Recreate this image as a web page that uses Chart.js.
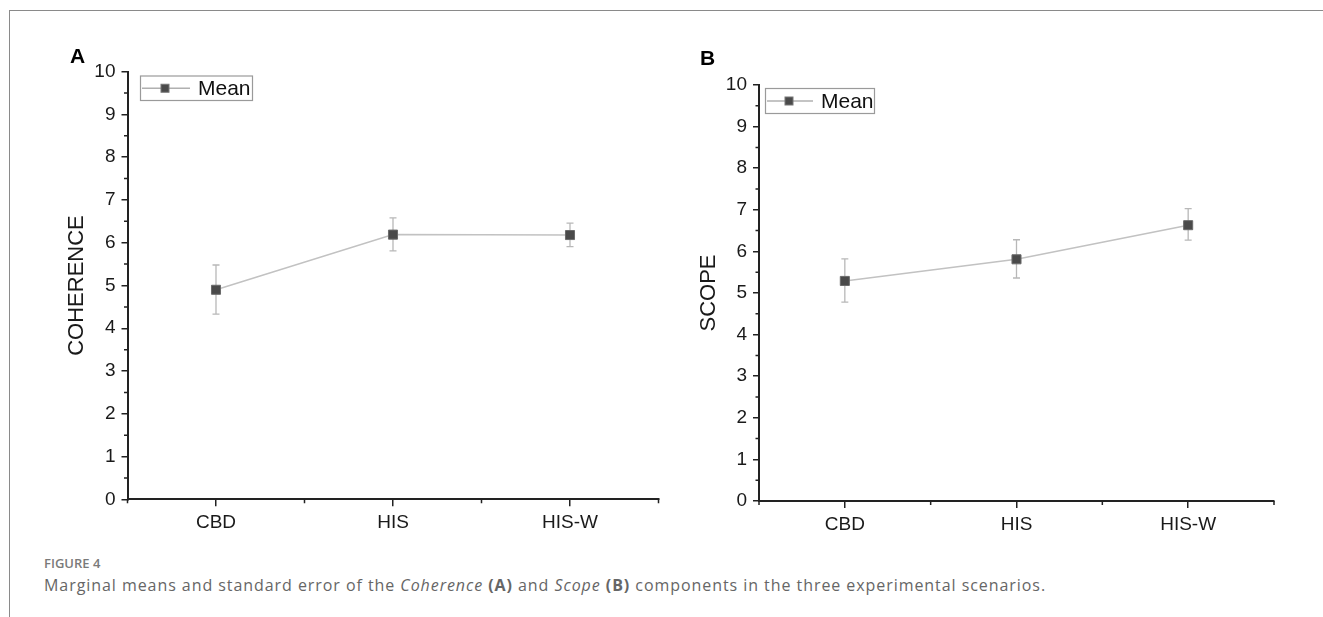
<!DOCTYPE html>
<html><head><meta charset="utf-8">
<script src="https://cdn.jsdelivr.net/npm/chart.js@4.4.1/dist/chart.umd.min.js"></script>
<style>
html,body{margin:0;padding:0;background:#fff;}
body{width:1323px;height:617px;position:relative;overflow:hidden;font-family:"Liberation Sans",Arial,sans-serif;}
#frame{position:absolute;left:9px;top:10px;width:1320px;height:620px;border-top:1.5px solid #8a8a8a;border-left:1.5px solid #8a8a8a;box-sizing:border-box;}
canvas{position:absolute;top:0;}
#ca{left:0;}
#cb{left:640px;}
.plab{position:absolute;font:bold 21px/21px "Liberation Sans",Arial,sans-serif;color:#000;}
#fig{position:absolute;left:44px;top:555px;font:600 13px/16px "Open Sans",sans-serif;color:#7a7a7a;white-space:nowrap;}
#cap{position:absolute;left:44px;top:575px;font:16px/20px "Open Sans",sans-serif;color:#666;white-space:nowrap;}
</style></head>
<body>
<div id="frame"></div>
<canvas id="ca" width="700" height="545" style="width:700px;height:545px"></canvas>
<canvas id="cb" width="683" height="545" style="width:683px;height:545px"></canvas>
<div class="plab" style="left:70px;top:45px">A</div>
<div class="plab" style="left:700px;top:47px">B</div>
<div id="fig">FIGURE 4</div>
<div id="cap">Marginal means and standard error of the <i>Coherence</i> <b>(A)</b> and <i>Scope</i> <b>(B)</b> components in the three experimental scenarios.</div>
<script>
// ---- data ----
const categories = ['CBD', 'HIS', 'HIS-W'];
const coherenceMean = [4.90, 6.19, 6.18];
const coherenceLow  = [4.33, 5.81, 5.91];
const coherenceHigh = [5.48, 6.58, 6.46];
const scopeMean = [5.29, 5.81, 6.63];
const scopeLow  = [4.78, 5.36, 6.27];
const scopeHigh = [5.82, 6.28, 7.03];
const yMin = 0, yMax = 10, yStep = 1;
const seriesLabel = 'Mean';

const FONT = '"Liberation Sans", Arial, sans-serif';
const AX = '#222';

const errorBars = {
  id: 'errorBars',
  beforeDatasetsDraw(chart, args, opts) {
    const {ctx} = chart, x = chart.scales.x, y = chart.scales.y;
    ctx.save();
    ctx.strokeStyle = '#b8b8b8';
    ctx.lineWidth = 1.3;
    opts.low.forEach((lo, i) => {
      const px = x.getPixelForValue(i);
      const y1 = y.getPixelForValue(lo), y2 = y.getPixelForValue(opts.high[i]);
      ctx.beginPath();
      ctx.moveTo(px, y1); ctx.lineTo(px, y2);
      ctx.moveTo(px - 3.5, y1); ctx.lineTo(px + 3.5, y1);
      ctx.moveTo(px - 3.5, y2); ctx.lineTo(px + 3.5, y2);
      ctx.stroke();
    });
    ctx.restore();
  }
};

const minorTicks = {
  id: 'minorTicks',
  afterDraw(chart) {
    const {ctx} = chart, x = chart.scales.x, y = chart.scales.y;
    ctx.save();
    ctx.strokeStyle = AX; ctx.lineWidth = 1.5;
    ctx.beginPath();
    for (let v = yMin + yStep / 2; v < yMax; v += yStep) {
      const py = y.getPixelForValue(v);
      ctx.moveTo(chart.chartArea.left - 3.5, py); ctx.lineTo(chart.chartArea.left, py);
    }
    for (let k = -0.5; k <= categories.length - 0.5; k += 1) {
      const px = x.getPixelForValue(k);
      ctx.moveTo(px, chart.chartArea.bottom); ctx.lineTo(px, chart.chartArea.bottom + 4);
    }
    ctx.stroke();
    ctx.restore();
  }
};

const boxLegend = {
  id: 'boxLegend',
  afterDraw(chart, args, o) {
    const {ctx, chartArea} = chart;
    const bx = chartArea.left + o.dx, by = chartArea.top + o.dy;
    ctx.save();
    ctx.fillStyle = '#fff';
    ctx.fillRect(bx, by, o.w, o.h);
    ctx.strokeStyle = '#9a9a9a'; ctx.lineWidth = 1.2;
    ctx.strokeRect(bx + 0.5, by + 0.5, o.w, o.h);
    const cy = by + o.h / 2 + 0.5;
    ctx.strokeStyle = '#b0b0b0'; ctx.lineWidth = 1.3;
    ctx.beginPath(); ctx.moveTo(bx + 2, cy); ctx.lineTo(bx + o.lineLen, cy); ctx.stroke();
    const mx = bx + o.lineLen / 2;
    ctx.fillStyle = '#4a4a4a'; ctx.strokeStyle = '#777'; ctx.lineWidth = 1;
    ctx.fillRect(mx - 4, cy - 4, 8, 8); ctx.strokeRect(mx - 4, cy - 4, 8, 8);
    ctx.fillStyle = '#111';
    ctx.font = '21px ' + FONT;
    ctx.textBaseline = 'middle'; ctx.textAlign = 'left';
    ctx.fillText(chart.data.datasets[0].label, bx + o.textX, cy + 1);
    ctx.restore();
  }
};

function makeChart(id, mean, low, high, title, L) {
  return new Chart(document.getElementById(id), {
    type: 'line',
    data: {
      labels: categories,
      datasets: [{
        label: seriesLabel,
        data: mean,
        borderColor: '#c2c2c2',
        borderWidth: 1.5,
        pointStyle: 'rect',
        pointRadius: 6.4,
        pointHoverRadius: 6.4,
        pointBackgroundColor: '#4a4a4a',
        pointBorderColor: '#6a6a6a',
        pointBorderWidth: 1,
        tension: 0
      }]
    },
    options: {
      responsive: false,
      animation: false,
      events: [],
      layout: {padding: {left: L.padLeft, top: L.top, right: L.padRight, bottom: 0}},
      plugins: {
        legend: {display: false},
        tooltip: {enabled: false},
        errorBars: {low: low, high: high},
        boxLegend: L.legend
      },
      scales: {
        x: {
          type: 'category',
          offset: true,
          afterFit(s) { s.height = L.xHeight; },
          grid: {display: true, offset: false, drawOnChartArea: false, tickLength: 7, tickColor: AX, tickWidth: 1.5, lineWidth: 1.5},
          border: {display: true, color: AX, width: 2},
          ticks: {color: '#1a1a1a', font: {family: FONT, size: 19}, padding: 5, maxRotation: 0}
        },
        y: {
          min: yMin, max: yMax,
          afterFit(s) { s.width = L.yWidth; },
          grid: {display: true, drawOnChartArea: false, tickLength: 6, tickColor: AX, tickWidth: 1.5, lineWidth: 1.5},
          border: {display: true, color: AX, width: 2},
          ticks: {stepSize: yStep, color: '#1a1a1a', font: {family: FONT, size: 19}, padding: 6},
          title: {display: true, text: title, color: '#1a1a1a', font: {family: FONT, size: 22}, padding: {top: 0, bottom: 0}}
        }
      }
    },
    plugins: [errorBars, minorTicks, boxLegend]
  });
}

makeChart('ca', coherenceMean, coherenceLow, coherenceHigh, 'COHERENCE', {
  padLeft: 64, yWidth: 63.5, top: 71.7, padRight: 41.5, xHeight: 45.7,
  legend: {dx: 12.5, dy: 3.8, w: 112, h: 24.5, lineLen: 50, textX: 58}
});
makeChart('cb', scopeMean, scopeLow, scopeHigh, 'SCOPE', {
  padLeft: 56, yWidth: 63, top: 85, padRight: 49, xHeight: 44,
  legend: {dx: 6, dy: 3, w: 109, h: 25, lineLen: 48, textX: 56}
});

// fit caption width
(function(){
  const cap = document.getElementById('cap');
  const target = 1002;
  const w = cap.getBoundingClientRect().width;
  const n = cap.textContent.length;
  cap.style.letterSpacing = ((target - w) / n).toFixed(3) + 'px';
})();
</script>
</body></html>
